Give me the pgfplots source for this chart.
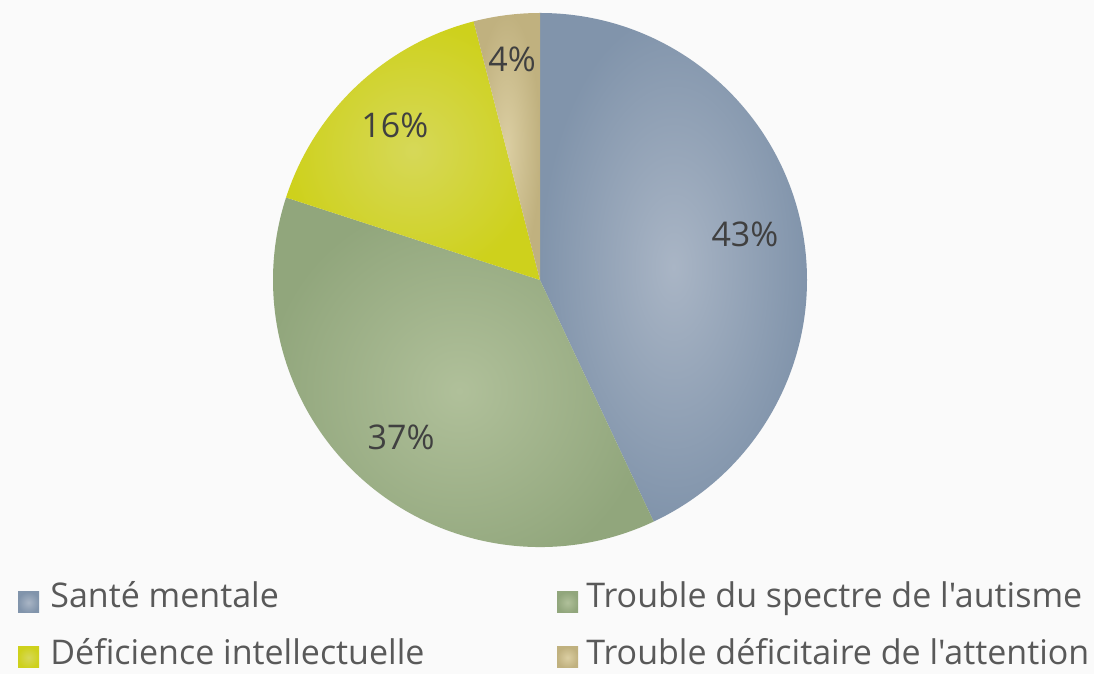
\documentclass[border=0pt]{standalone}
\usepackage{fontspec}
\setmainfont{Open Sans}[Ligatures=TeXOff]
\usepackage{pgfplots}
\usepackage{pgfplotstable}
\pgfplotsset{compat=1.18}

\definecolor{bgc}{HTML}{FAFAFA}
\definecolor{labc}{HTML}{404040}
\definecolor{legc}{HTML}{595959}
\definecolor{smIn}{HTML}{A9B5C5}
\definecolor{smOut}{HTML}{8194AB}
\definecolor{tsIn}{HTML}{B0C09A}
\definecolor{tsOut}{HTML}{91A67C}
\definecolor{diIn}{HTML}{D6D858}
\definecolor{diOut}{HTML}{CED11C}
\definecolor{tdIn}{HTML}{DBCEA2}
\definecolor{tdOut}{HTML}{C0B17F}

% share of each group, percent (clockwise from 12 o'clock)
\pgfplotstableread[col sep=comma]{
label,value,col,lr
Santé mentale,43,sm,105
Trouble du spectre de l'autisme,37,ts,105
Déficience intellectuelle,16,di,106
Trouble déficitaire de l'attention,4,td,111
}\piedata

\begin{document}
\begin{tikzpicture}
\begin{axis}[
    scale only axis,
    width=547pt, height=337pt,
    xmin=0, xmax=1094, ymin=0, ymax=674,
    hide axis, clip=false,
]
\addplot[draw=none] coordinates {(0,0)};
\fill[bgc] (axis cs:0,0) rectangle (axis cs:1094,674);

\pgfplotstablegetrowsof{\piedata}
\pgfmathtruncatemacro\nrows{\pgfplotsretval-1}
\def\startang{90}
\pgfplotsforeachungrouped \i in {0,...,\nrows}{
    \pgfplotstablegetelem{\i}{value}\of{\piedata}\let\v\pgfplotsretval
    \pgfplotstablegetelem{\i}{col}\of{\piedata}\let\c\pgfplotsretval
    \pgfplotstablegetelem{\i}{lr}\of{\piedata}\let\lr\pgfplotsretval
    \pgfplotstablegetelem{\i}{label}\of{\piedata}\let\lab\pgfplotsretval
    \pgfmathsetmacro\endang{\startang-3.6*\v}
    \pgfmathsetmacro\midang{(\startang+\endang)/2}
    \pgfmathtruncatemacro\lcol{mod(\i,2)}
    \pgfmathtruncatemacro\lrow{\i/2}
    \pgfmathsetmacro\sqx{18+539*\lcol}
    \pgfmathsetmacro\sqy{61-55*\lrow}
    \pgfmathsetmacro\tx{50+536*\lcol}
    \pgfmathsetmacro\ty{66-57*\lrow}
    \edef\temp{%
      \noexpand\shade[inner color=\c In, outer color=\c Out]
        (axis cs:540,394) -- ++(\startang:133.5pt)
        arc[start angle=\startang, end angle=\endang, radius=133.5pt] -- cycle;
      \noexpand\path (axis cs:540,394) ++(\midang:\lr pt)
        node[font=\noexpand\fontsize{17}{20}\noexpand\selectfont, text=labc] {\v\noexpand\%};
      \noexpand\shade[inner color=\c In, outer color=\c Out]
        (axis cs:\sqx,\sqy) rectangle ++(10.5pt,10.5pt);
      \noexpand\node[anchor=base west, inner sep=0pt, text=legc,
        font=\noexpand\fontsize{17}{20}\noexpand\selectfont]
        at (axis cs:\tx,\ty) {\unexpanded\expandafter{\lab}};
    }%
    \temp
    \global\let\startang\endang
}
\end{axis}
\pgfresetboundingbox
\path[use as bounding box] (0,0) rectangle (547pt,337pt);
\end{tikzpicture}
\end{document}
